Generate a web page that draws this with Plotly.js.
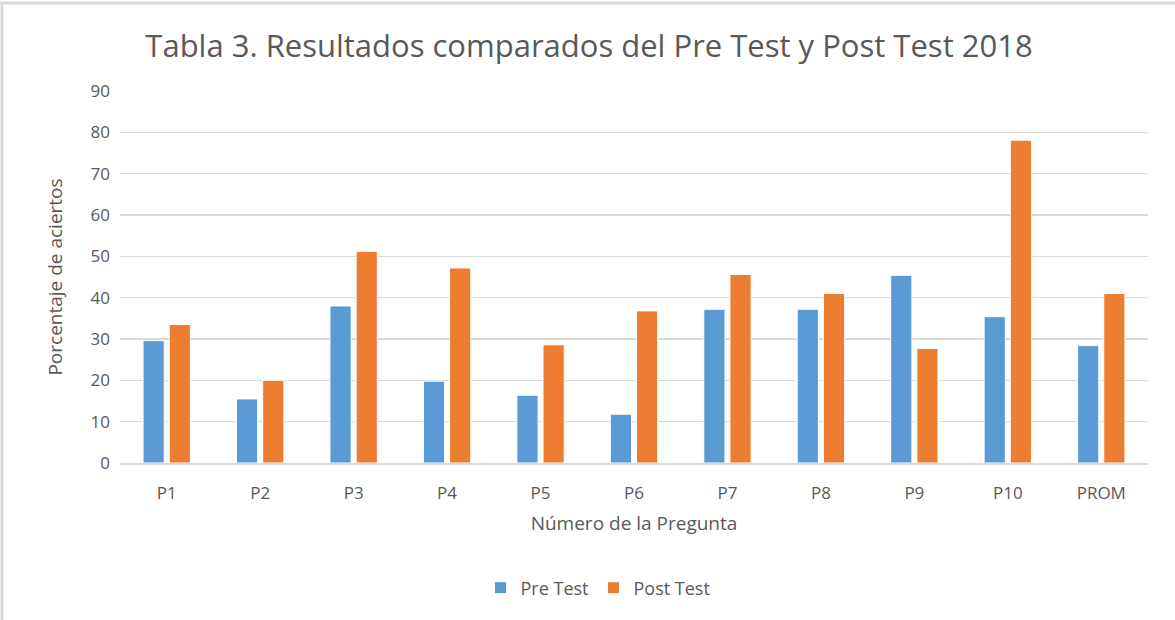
<!DOCTYPE html>
<html><head><meta charset="utf-8">
<script src="https://cdn.plot.ly/plotly-3.0.1.min.js"></script>
<style>body{margin:0;background:#fff}#c{width:1175px;height:620px}</style>
</head><body><div id="c"></div>
<script>
const categories = ["P1","P2","P3","P4","P5","P6","P7","P8","P9","P10","PROM"];
const preTest  = [29.6, 15.5, 38.0, 19.8, 16.4, 11.8, 37.2, 37.2, 45.4, 35.4, 28.4];
const postTest = [33.5, 20.0, 51.2, 47.2, 28.6, 36.8, 45.6, 41.0, 27.7, 78.1, 41.0];
const yTicks = [0,10,20,30,40,50,60,70,80,90];

const font = "Open Sans, DejaVu Sans, sans-serif";
const W = 1175, H = 620, L = 120, R = 27, T = 91, B = 157;
const pw = W - L - R, ph = H - T - B;
const px = v => (v - L) / pw, py = v => (H - B - v) / ph;

const data = [
  {type:"bar", name:"Pre Test", x:categories, y:preTest,
   marker:{color:"#5b9bd5", line:{color:"#ffffff", width:1}}},
  {type:"bar", name:"Post Test", x:categories, y:postTest,
   marker:{color:"#ed7d31", line:{color:"#ffffff", width:1}}}
];
const layout = {
  width:W, height:H,
  paper_bgcolor:"#fff", plot_bgcolor:"#fff",
  margin:{l:L, r:R, t:T, b:B},
  barmode:"group", bargap:0.44, bargroupgap:0.19,
  font:{family:font, color:"#595959", size:16},
  title:{text:"Tabla 3. Resultados comparados del Pre Test y Post Test 2018",
    font:{family:font, size:31, color:"#595959"}, x:px(589), xref:"paper", xanchor:"center", y:0.925, yanchor:"middle"},
  xaxis:{title:{text:"Número de la Pregunta", font:{size:19, color:"#595959"}, standoff:14},
    tickfont:{size:17, color:"#595959"}, showline:true, linecolor:"#d9d9d9", linewidth:1.5,
    ticks:"", showgrid:false, ticklabelstandoff:14},
  yaxis:{title:{text:"Porcentaje de aciertos", font:{size:19, color:"#595959"}, standoff:22},
    range:[0,90], tickvals:yTicks, ticktext:yTicks.map(String),
    tickfont:{size:17, color:"#595959"}, gridcolor:"#d9d9d9", gridwidth:1.5,
    zeroline:false, ticks:"", showline:false, ticklabelstandoff:9},
  legend:{orientation:"h", x:px(598), xanchor:"center", y:py(588), yanchor:"middle",
    font:{size:18, color:"#595959"}, traceorder:"normal"},
  showlegend:true,
  shapes:[
    {type:"line", xref:"paper", yref:"paper", x0:px(0), x1:px(W), y0:py(3), y1:py(3),
     line:{color:"#d9d9d9", width:3}},
    {type:"line", xref:"paper", yref:"paper", x0:px(2), x1:px(2), y0:py(3), y1:py(H),
     line:{color:"#d9d9d9", width:3}}
  ]
};
Plotly.newPlot("c", data, layout, {displayModeBar:false, staticPlot:true});
</script></body></html>
